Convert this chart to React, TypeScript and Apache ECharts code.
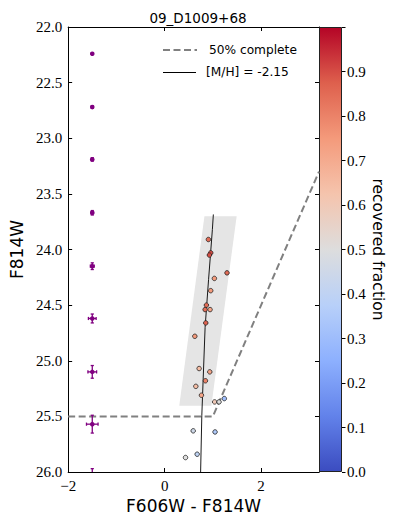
import React, { useEffect, useRef } from "react";
import * as echarts from "echarts";

// ---- data ----
const titleText = "09_D1009+68";
const xLabel = "F606W - F814W";
const yLabel = "F814W";
const cbLabel = "recovered fraction";
const legendComplete = "50% complete";
const legendIso = "[M/H] = -2.15";

// artificial-star points: color, magnitude, recovered fraction
const starColor = [0.907, 0.956, 0.928, 1.293, 1.031, 0.956, 0.866, 0.839, 0.942, 0.853, 0.626, 0.715, 0.936, 0.846, 0.647, 0.763, 1.037, 1.128, 1.237, 0.592, 1.045, 0.674, 0.433];
const starMag = [23.91, 24.03, 24.05, 24.21, 24.26, 24.37, 24.5, 24.54, 24.54, 24.66, 24.78, 25.07, 25.1, 25.18, 25.23, 25.31, 25.37, 25.37, 25.34, 25.63, 25.64, 25.84, 25.87];
const starFrac = [0.85, 0.9, 0.9, 0.85, 0.75, 0.75, 0.85, 0.85, 0.72, 0.87, 0.75, 0.65, 0.72, 0.8, 0.65, 0.72, 0.6, 0.5, 0.3, 0.45, 0.35, 0.4, 0.5];

// error bars
const errColor = [-1.5, -1.5, -1.5, -1.5, -1.5, -1.5, -1.5, -1.5, -1.5];
const errMag = [22.24, 22.72, 23.19, 23.67, 24.15, 24.62, 25.1, 25.57, 26.05];
const errColorErr = [0.01, 0.015, 0.02, 0.025, 0.04, 0.08, 0.09, 0.12, 0.16];
const errMagErr = [0.005, 0.01, 0.015, 0.02, 0.03, 0.04, 0.057, 0.08, 0.08];

// 50% completeness line
const completeColor = [-2, 1.0, 3.2];
const completeMag = [25.5, 25.5, 23.3];

// isochrone
const isoColor = [1.01, 0.99, 0.911, 0.839, 0.771, 0.746];
const isoMag = [23.685, 23.82, 24.27, 24.7, 25.49, 26.0];

// selection box
const boxColor = [0.825, 1.493, 0.969, 0.303];
const boxMag = [23.7, 23.7, 25.405, 25.405];

// colormap (coolwarm)
const coolwarm = ["#3b4cc0", "#6282ea", "#8db0fe", "#b8d0f9", "#dddddd", "#f5c4ad", "#f49a7b", "#de604d", "#b40426"];

const serif = "Liberation Serif";
const sans = "DejaVu Sans";

export default function App() {
  const ref = useRef<HTMLDivElement>(null);
  useEffect(() => {
    if (!ref.current) return;
    const chart = echarts.init(ref.current, undefined, { renderer: "svg" });

    const frameAxis = {
      axisLine: { show: true, onZero: false, lineStyle: { color: "#000", width: 1 } },
      axisTick: { show: true, inside: true, length: 4, lineStyle: { color: "#000", width: 1 } },
      splitLine: { show: false },
    };

    const stops = coolwarm.map((c, i) => ({ offset: i / (coolwarm.length - 1), color: c }));

    const option: any = {
      animation: false,
      title: {
        text: titleText,
        left: 193,
        top: 6,
        textAlign: "center",
        textStyle: { fontFamily: sans, fontSize: 13.5, fontWeight: "normal", color: "#000" },
      },
      grid: [
        { left: 67, top: 27, width: 252, height: 445 },
        { left: 319, top: 27, width: 23, height: 445 },
      ],
      xAxis: [
        {
          gridIndex: 0,
          type: "value",
          position: "bottom",
          min: -2,
          max: 3.2,
          interval: 2,
          ...frameAxis,
          axisLabel: {
            fontFamily: serif,
            fontSize: 15,
            color: "#000",
            margin: 6,
            showMaxLabel: false,
            formatter: (v: number) =>
              Math.abs(v % 2) < 1e-9 ? (v < 0 ? "\u2212" + Math.abs(v) : String(v)) : "",
          },
          name: xLabel,
          nameLocation: "middle",
          nameGap: 23,
          nameTextStyle: { fontFamily: sans, fontSize: 17, color: "#000" },
        },
        {
          gridIndex: 0,
          type: "value",
          position: "top",
          min: -2,
          max: 3.2,
          interval: 2,
          ...frameAxis,
          axisLabel: { show: false },
        },
        { gridIndex: 1, type: "category", data: ["cb"], show: false },
      ],
      yAxis: [
        {
          gridIndex: 0,
          type: "value",
          position: "left",
          inverse: true,
          min: 22,
          max: 26,
          interval: 0.5,
          ...frameAxis,
          axisLabel: {
            fontFamily: serif,
            fontSize: 15,
            color: "#000",
            margin: 6,
            formatter: (v: number) => v.toFixed(1),
          },
          name: yLabel,
          nameLocation: "middle",
          nameGap: 40,
          nameRotate: 90,
          nameTextStyle: { fontFamily: sans, fontSize: 17, color: "#000" },
        },
        {
          gridIndex: 0,
          type: "value",
          position: "right",
          inverse: true,
          min: 22,
          max: 26,
          interval: 0.5,
          ...frameAxis,
          axisLabel: { show: false },
        },
        {
          gridIndex: 1,
          type: "value",
          position: "right",
          min: 0,
          max: 1,
          interval: 0.1,
          axisLine: { show: false },
          axisTick: { show: true, inside: false, length: 3.5, lineStyle: { color: "#000" } },
          splitLine: { show: false },
          axisLabel: {
            fontFamily: serif,
            fontSize: 15,
            color: "#000",
            margin: 5,
            formatter: (v: number) => (v > 0.95 ? "" : v.toFixed(1)),
          },
          name: cbLabel,
          nameLocation: "middle",
          nameGap: 28,
          nameRotate: -90,
          nameTextStyle: { fontFamily: sans, fontSize: 15.5, color: "#000" },
        },
      ],
      visualMap: {
        type: "continuous",
        show: false,
        seriesIndex: 3,
        dimension: 2,
        min: 0,
        max: 1,
        inRange: { color: coolwarm },
      },
      series: [
        {
          type: "custom",
          xAxisIndex: 0,
          yAxisIndex: 0,
          z: 1,
          silent: true,
          data: boxColor.map((x, i) => [x, boxMag[i]]),
          renderItem: (params: any, api: any) => {
            if (params.dataIndex !== 0) return null;
            const pts = boxColor.map((x, i) => api.coord([x, boxMag[i]]));
            return { type: "polygon", shape: { points: pts }, style: { fill: "#e5e5e5" } };
          },
        },
        {
          type: "line",
          xAxisIndex: 0,
          yAxisIndex: 0,
          z: 2,
          showSymbol: false,
          silent: true,
          data: completeColor.map((x, i) => [x, completeMag[i]]),
          lineStyle: { color: "#808080", width: 2, type: [7, 3.5] },
        },
        {
          type: "line",
          xAxisIndex: 0,
          yAxisIndex: 0,
          z: 3,
          showSymbol: false,
          silent: true,
          data: isoColor.map((x, i) => [x, isoMag[i]]),
          lineStyle: { color: "#000", width: 0.9 },
        },
        {
          type: "scatter",
          xAxisIndex: 0,
          yAxisIndex: 0,
          z: 4,
          symbolSize: 4.5,
          data: starColor.map((x, i) => [x, starMag[i], starFrac[i]]),
          itemStyle: { borderColor: "#222", borderWidth: 0.8, opacity: 1 },
        },
        {
          type: "custom",
          xAxisIndex: 0,
          yAxisIndex: 0,
          z: 5,
          silent: true,
          data: errColor.map((x, i) => [x, errMag[i], errColorErr[i], errMagErr[i]]),
          renderItem: (params: any, api: any) => {
            const x = api.value(0);
            const y = api.value(1);
            const xe = api.value(2);
            const ye = api.value(3);
            const cs = params.coordSys;
            const top = cs.y;
            const bot = cs.y + cs.height;
            const c = api.coord([x, y]);
            const l = api.coord([x - xe, y]);
            const r = api.coord([x + xe, y]);
            const t = api.coord([x, y - ye]);
            const b = api.coord([x, y + ye]);
            const col = "#800080";
            const st = { stroke: col, lineWidth: 1.3 };
            const children: any[] = [];
            const y1 = Math.max(Math.min(t[1], b[1]), top);
            const y2 = Math.min(Math.max(t[1], b[1]), bot);
            if (y2 > y1) {
              children.push({ type: "line", shape: { x1: c[0], y1, x2: c[0], y2 }, style: st });
            }
            const cap = 1.6;
            [t[1], b[1]].forEach((yy) => {
              if (yy >= top && yy <= bot) {
                children.push({ type: "line", shape: { x1: c[0] - cap, y1: yy, x2: c[0] + cap, y2: yy }, style: st });
              }
            });
            if (c[1] >= top && c[1] <= bot) {
              children.push({ type: "line", shape: { x1: l[0], y1: c[1], x2: r[0], y2: c[1] }, style: st });
              [l[0], r[0]].forEach((xx) => {
                children.push({ type: "line", shape: { x1: xx, y1: c[1] - cap, x2: xx, y2: c[1] + cap }, style: st });
              });
              children.push({ type: "circle", shape: { cx: c[0], cy: c[1], r: 2.3 }, style: { fill: col } });
            }
            return { type: "group", children };
          },
        },
        {
          type: "bar",
          xAxisIndex: 2,
          yAxisIndex: 2,
          silent: true,
          barWidth: "100%",
          data: [1],
          itemStyle: {
            color: new echarts.graphic.LinearGradient(0, 1, 0, 0, stops),
            borderColor: "#222",
            borderWidth: 1,
          },
        },
      ],
      graphic: [
        {
          type: "line",
          shape: { x1: 163, y1: 50, x2: 197, y2: 50 },
          style: { stroke: "#808080", lineWidth: 2, lineDash: [7, 3.5] },
          z: 10,
        },
        {
          type: "text",
          x: 209,
          y: 50,
          style: { text: legendComplete, fontFamily: sans, fontSize: 12.2, fill: "#000", verticalAlign: "middle" },
          z: 10,
        },
        {
          type: "line",
          shape: { x1: 163, y1: 72.5, x2: 196, y2: 72.5 },
          style: { stroke: "#000", lineWidth: 1 },
          z: 10,
        },
        {
          type: "text",
          x: 206,
          y: 72,
          style: { text: legendIso, fontFamily: sans, fontSize: 12.2, fill: "#000", verticalAlign: "middle" },
          z: 10,
        },
      ],
    };

    chart.setOption(option);
    return () => chart.dispose();
  }, []);

  return (
    <div
      ref={ref}
      style={{ position: "fixed", left: 0, top: 0, width: 398, height: 526, background: "#fff" }}
    />
  );
}
